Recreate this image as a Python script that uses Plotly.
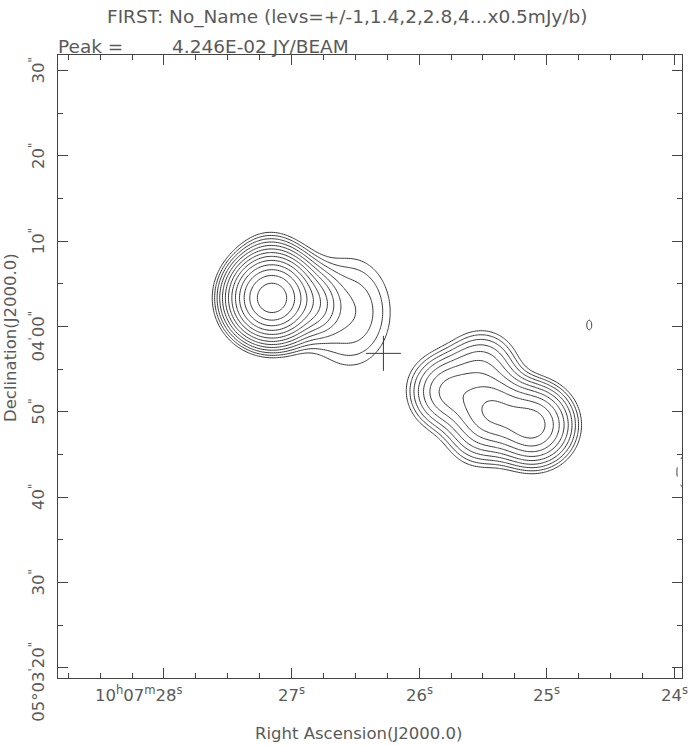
import numpy as np
import plotly.graph_objects as go

# Gaussian components (RA seconds of 10h07m, Dec arcsec past 05d03m)
comp_ra = [27.154, 27.169, 26.793, 26.542,
           25.108, 25.430, 25.775, 25.508, 25.539,
           24.667, 23.799]
comp_dec = [63.34, 68.03, 62.52, 61.70,
            48.45, 50.21, 52.35, 55.37, 47.16,
            60.17, 42.94]
comp_peak = [41.6, 0.85, 2.8, 1.4,
             9.4, 7.2, 4.1, 2.3, 1.2,
             0.53, -1.0]                     # mJy/beam
comp_sig_x = [2.35, 2.1, 1.52, 3.28,
              2.35, 2.35, 2.35, 2.35, 2.35,
              0.9, 2.3]                      # arcsec, east-west
comp_sig_y = [2.35, 2.1, 2.11, 4.34,
              2.35, 2.35, 2.35, 2.35, 2.35,
              1.7, 2.3]                      # arcsec, north-south

# catalogue position marker
cross_ra = [26.280]
cross_dec = [56.85]

# contour levels: +/-1,1.4,2,2.8,4... x 0.5 mJy/b  (factor sqrt2 steps)
base_level = 0.5
n_levels = 14

# axis ticks
ra_ticks = [28, 27, 26, 25, 24]
ra_labels = ["10<sup>h</sup>07<sup>m</sup>28<sup>s</sup>", "27<sup>s</sup>", "26<sup>s</sup>",
             "25<sup>s</sup>", "24<sup>s</sup>"]
dec_ticks = [90, 80, 70, 60, 50, 40, 30, 20]
dec_labels = ['30<sup>"</sup>', '20<sup>"</sup>', '10<sup>"</sup>', "04<sup>'</sup>00<sup>\"</sup>",
              '50<sup>"</sup>', '40<sup>"</sup>', '30<sup>"</sup>', "05°03<sup>'</sup>20<sup>\"</sup>"]

ra_range = [28.8307, 23.9397]
dec_range = [18.79, 91.83]

# map grid
xs = np.arange(23.90, 28.88, 0.015)
ys = np.arange(18.5, 92.2, 0.22)
X, Y = np.meshgrid(xs, ys)
cosd = np.cos(np.radians(5.0525))
field = np.zeros_like(X)
for ra, dec, pk, sx, sy in zip(comp_ra, comp_dec, comp_peak, comp_sig_x, comp_sig_y):
    u = (X - ra) * 15 * cosd
    v = Y - dec
    field += pk * np.exp(-u**2 / (2 * sx**2) - v**2 / (2 * sy**2))

zpos = 2 * np.log2(np.clip(field, 1e-6, None) / base_level)
zneg = 2 * np.log2(np.clip(-field, 1e-6, None) / base_level)

line_col = "#3a3a3a"
text_col = "#5a5a5a"
font_fam = "DejaVu Sans, sans-serif"

fig = go.Figure()
fig.add_trace(go.Contour(
    x=xs, y=ys, z=zpos,
    contours=dict(start=0, end=n_levels - 1, size=1, coloring="lines"),
    colorscale=[[0, line_col], [1, line_col]],
    line=dict(width=1), showscale=False, hoverinfo="skip"))
fig.add_trace(go.Contour(
    x=xs, y=ys, z=zneg,
    contours=dict(start=0, end=n_levels - 1, size=1, coloring="lines"),
    colorscale=[[0, line_col], [1, line_col]],
    line=dict(width=1, dash="dash"), showscale=False, hoverinfo="skip"))
fig.add_trace(go.Scatter(
    x=cross_ra, y=cross_dec, mode="markers",
    marker=dict(symbol="cross-thin", size=25, line=dict(width=1, color=line_col)),
    hoverinfo="skip"))

ann = []
for i, (v, s) in enumerate(zip(ra_ticks, ra_labels)):
    ann.append(dict(x=v, y=0, xref="x", yref="paper", text=s, showarrow=False,
                    xanchor="center", yanchor="middle", yshift=-16,
                    xshift=-25 if i == 0 else 0,
                    font=dict(size=16.5, color=text_col, family=font_fam)))
for i, (v, s) in enumerate(zip(dec_ticks, dec_labels)):
    shift = 0
    if i == 3:
        shift = -10
    if i == len(dec_ticks) - 1:
        shift = -14
    ann.append(dict(x=0, y=v, xref="paper", yref="y", text=s, showarrow=False,
                    xanchor="center", yanchor="middle", xshift=-21, yshift=shift,
                    textangle=-90, font=dict(size=16.5, color=text_col, family=font_fam)))

ann.append(dict(x=0.482, y=0, xref="paper", yref="paper", text="Right Ascension(J2000.0)",
                showarrow=False, xanchor="center", yanchor="middle", yshift=-55,
                font=dict(size=16.5, color=text_col, family=font_fam)))
ann.append(dict(x=0, y=0.5457, xref="paper", yref="paper", text="Declination(J2000.0)",
                showarrow=False, xanchor="center", yanchor="middle", xshift=-48,
                textangle=-90, font=dict(size=16.5, color=text_col, family=font_fam)))
ann.append(dict(x=0.4647, y=1, xref="paper", yref="paper",
                text="FIRST: No_Name (levs=+/-1,1.4,2,2.8,4...x0.5mJy/b)",
                showarrow=False, xanchor="center", yanchor="middle", yshift=38,
                font=dict(size=18.5, color=text_col, family=font_fam)))
ann.append(dict(x=0, y=1, xref="paper", yref="paper", text="Peak =",
                showarrow=False, xanchor="left", yanchor="middle", yshift=9, xshift=-2,
                font=dict(size=18.5, color=text_col, family=font_fam)))
ann.append(dict(x=0.1795, y=1, xref="paper", yref="paper", text="4.246E-02 JY/BEAM",
                showarrow=False, xanchor="left", yanchor="middle", yshift=9,
                font=dict(size=18.5, color=text_col, family=font_fam)))

axis_common = dict(showgrid=False, zeroline=False, showline=True, linecolor="#444",
                   linewidth=1, mirror="ticks", ticks="inside", ticklen=10,
                   tickcolor="#444", tickwidth=1, showticklabels=False)
fig.update_xaxes(range=ra_range, tickmode="linear", tick0=24, dtick=1,
                 minor=dict(tick0=24, dtick=0.25, ticks="inside", ticklen=5, tickcolor="#444"),
                 **axis_common)
fig.update_yaxes(range=dec_range, tickmode="linear", tick0=0, dtick=10,
                 minor=dict(tick0=0, dtick=5, ticks="inside", ticklen=5, tickcolor="#444"),
                 **axis_common)

fig.update_layout(width=692, height=746, margin=dict(l=58, r=10, t=55, b=68),
                  plot_bgcolor="white", paper_bgcolor="white", showlegend=False,
                  annotations=ann)

fig.write_html("out.html", config={"displayModeBar": False},
               post_script="document.body.style.margin='0';")
